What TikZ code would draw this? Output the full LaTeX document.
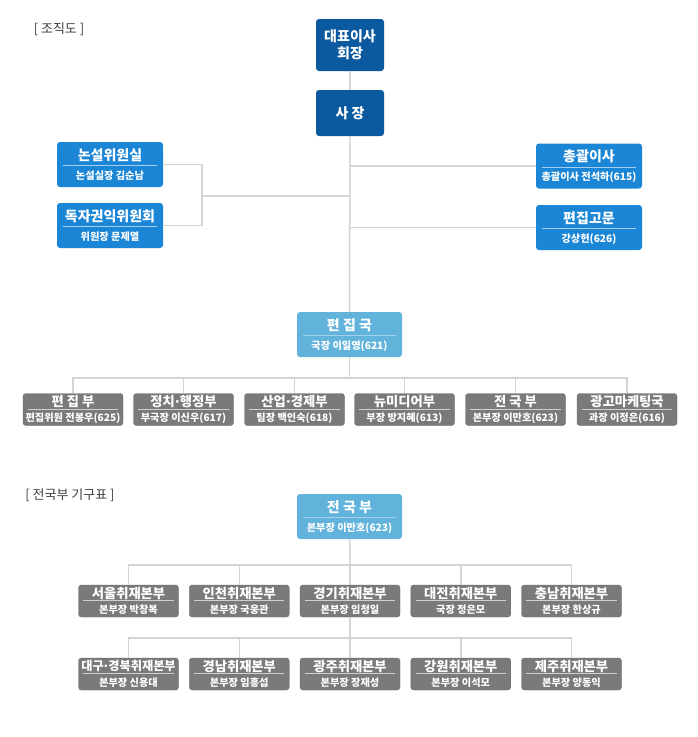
\documentclass[tikz,border=0pt]{standalone}
\usepackage{fontspec}
\usepackage{xcolor}
\usepackage{tikz}
\usetikzlibrary{positioning, calc}
\newfontfamily\kr{Noto Sans CJK KR}
\newfontfamily\dotfont{DejaVu Sans}
\newcommand{\middot}{{\dotfont\bfseries ·}}
\definecolor{topblue}{HTML}{0B5A9F}
\definecolor{midblue}{HTML}{1C86D6}
\definecolor{lightblue}{HTML}{62B3DB}
\definecolor{deptgray}{HTML}{7A7A7A}
\definecolor{deptedge}{HTML}{686868}
\definecolor{linkgray}{HTML}{D4D4D4}
\definecolor{labelgray}{HTML}{3F3F3F}

\tikzset{
  link/.style={draw=linkgray, line width=1.5pt},
  heading/.style={text=labelgray, font=\kr\fontsize{13}{15}\selectfont, inner sep=0pt},
  topbox/.style={fill=topblue, rounded corners=3pt, text=white, minimum width=68pt,
    align=center, font=\kr\bfseries\fontsize{14}{17}\selectfont},
  sidebox/.style={fill=midblue, rounded corners=3pt, minimum width=106pt, minimum height=45pt},
  deskbox/.style={fill=lightblue, rounded corners=3pt, minimum width=105pt, minimum height=45pt},
  deptbox/.style={fill=deptgray, draw=deptedge, rounded corners=3pt, minimum width=100pt, minimum height=32pt},
  bigtitle/.style={text=white, inner sep=0pt, font=\kr\bfseries\fontsize{14}{16}\selectfont},
  smalltitle/.style={text=white, inner sep=0pt, font=\kr\bfseries\fontsize{13.3}{15}\selectfont},
  subtitle/.style={text=white, inner sep=0pt, font=\kr\bfseries\fontsize{10.2}{12}\selectfont},
  bluesep/.style={draw=white!60!midblue, line width=0.8pt},
  graysep/.style={draw=white!65!deptgray, line width=0.8pt},
}

% box with title, rule and subtitle
\newcommand{\bluecard}[5]{%
  \node[#2] (#1) at (#3) {};
  \node[bigtitle] at ([yshift=-13pt]#1.north) {#4};
  \draw[bluesep] ([xshift=6pt,yshift=-24pt]#1.north west) -- ([xshift=-6pt,yshift=-24pt]#1.north east);
  \node[subtitle] at ([yshift=-34pt]#1.north) {#5};
}
\newcommand{\graycard}[4]{%
  \node[deptbox] (#1) at (#2) {};
  \node[smalltitle] at ([yshift=-8.5pt]#1.north) {#3};
  \draw[graysep] ([xshift=5pt,yshift=-16pt]#1.north west) -- ([xshift=-5pt,yshift=-16pt]#1.north east);
  \node[subtitle] at ([yshift=-24.5pt]#1.north) {#4};
}

\begin{document}
\begin{tikzpicture}[x=1pt, y=-1pt]
  \useasboundingbox[fill=white] (0,0) rectangle (697,737);

  \node[heading] (chart) at (59,29) {[ 조직도 ]};

  \node[topbox, minimum height=52pt] (ceo) at (350,45) {대표이사\\회장};
  \node[topbox, minimum height=46pt] (pres) at (350,113) {사 장};

  \bluecard{editorial}{sidebox}{110,164.5}{논설위원실}{논설실장 김순남}
  \bluecard{readers}{sidebox}{110,225.5}{독자권익위원회}{위원장 문제열}
  \bluecard{director}{sidebox}{589,166}{총괄이사}{총괄이사 전석하(615)}
  \bluecard{advisor}{sidebox}{589,227.5}{편집고문}{강상헌(626)}
  \bluecard{newsroom}{deskbox}{349.5,334.5}{편 집 국}{국장 이일영(621)}

  \graycard{d1}{73,409.5}{편 집 부}{편집위원 전봉우(625)}
  \graycard{d2}{183.5,409.5}{정치\middot 행정부}{부국장 이신우(617)}
  \graycard{d3}{294.5,409.5}{산업\middot 경제부}{팀장 백인숙(618)}
  \graycard{d4}{404.5,409.5}{뉴미디어부}{부장 방지혜(613)}
  \graycard{d5}{515.5,409.5}{전 국 부}{본부장 이만호(623)}
  \graycard{d6}{627,409.5}{광고마케팅국}{과장 이정은(616)}

  \coordinate (sidejoin) at (202,196);
  \coordinate (deskbus) at (349.5,378);

  \draw[link] (ceo) -- (pres);
  \draw[link] (pres) -- (newsroom);
  \draw[link] (editorial.east) -| (sidejoin) |- (readers.east);
  \draw[link] (sidejoin) -- (sidejoin -| pres.south);
  \draw[link] (pres.south |- director.west) -- (director.west);
  \draw[link] (pres.south |- advisor.west) -- (advisor.west);
  \draw[link] (newsroom) -- (deskbus);
  \draw[link] (d1.north) |- (deskbus);
  \draw[link] (d2.north) |- (deskbus);
  \draw[link] (d3.north) |- (deskbus);
  \draw[link] (d4.north) |- (deskbus);
  \draw[link] (d5.north) |- (deskbus);
  \draw[link] (d6.north) |- (deskbus);

  \node[heading] (regional) at (70,495) {[ 전국부 기구표 ]};

  \bluecard{national}{deskbox}{349.5,516.5}{전 국 부}{본부장 이만호(623)}

  \graycard{r1}{128.5,601}{서울취재본부}{본부장 박창복}
  \graycard{r2}{239.25,601}{인천취재본부}{본부장 국웅관}
  \graycard{r3}{350,601}{경기취재본부}{본부장 임청일}
  \graycard{r4}{460.75,601}{대전취재본부}{국장 정은모}
  \graycard{r5}{571.5,601}{충남취재본부}{본부장 한상규}

  \graycard{s1}{128.5,674}{\fontsize{12.2}{14}\selectfont 대구\middot 경북취재본부}{본부장 신용대}
  \graycard{s2}{239.25,674}{경남취재본부}{본부장 임흥섭}
  \graycard{s3}{350,674}{광주취재본부}{본부장 장재성}
  \graycard{s4}{460.75,674}{강원취재본부}{본부장 이석모}
  \graycard{s5}{571.5,674}{제주취재본부}{본부장 양동익}

  \coordinate (busone) at (350,565);
  \coordinate (bustwo) at (350,638);

  \draw[link] (national) -- (busone);
  \draw[link] (r1.north) |- (busone);
  \draw[link] (r2.north) |- (busone);
  \draw[link] (r3.north) |- (busone);
  \draw[link] (r4.north) |- (busone);
  \draw[link] (r5.north) |- (busone);
  \draw[link] (r3) -- (bustwo);
  \draw[link] (s1.north) |- (bustwo);
  \draw[link] (s2.north) |- (bustwo);
  \draw[link] (s3.north) |- (bustwo);
  \draw[link] (s4.north) |- (bustwo);
  \draw[link] (s5.north) |- (bustwo);
\end{tikzpicture}
\end{document}
